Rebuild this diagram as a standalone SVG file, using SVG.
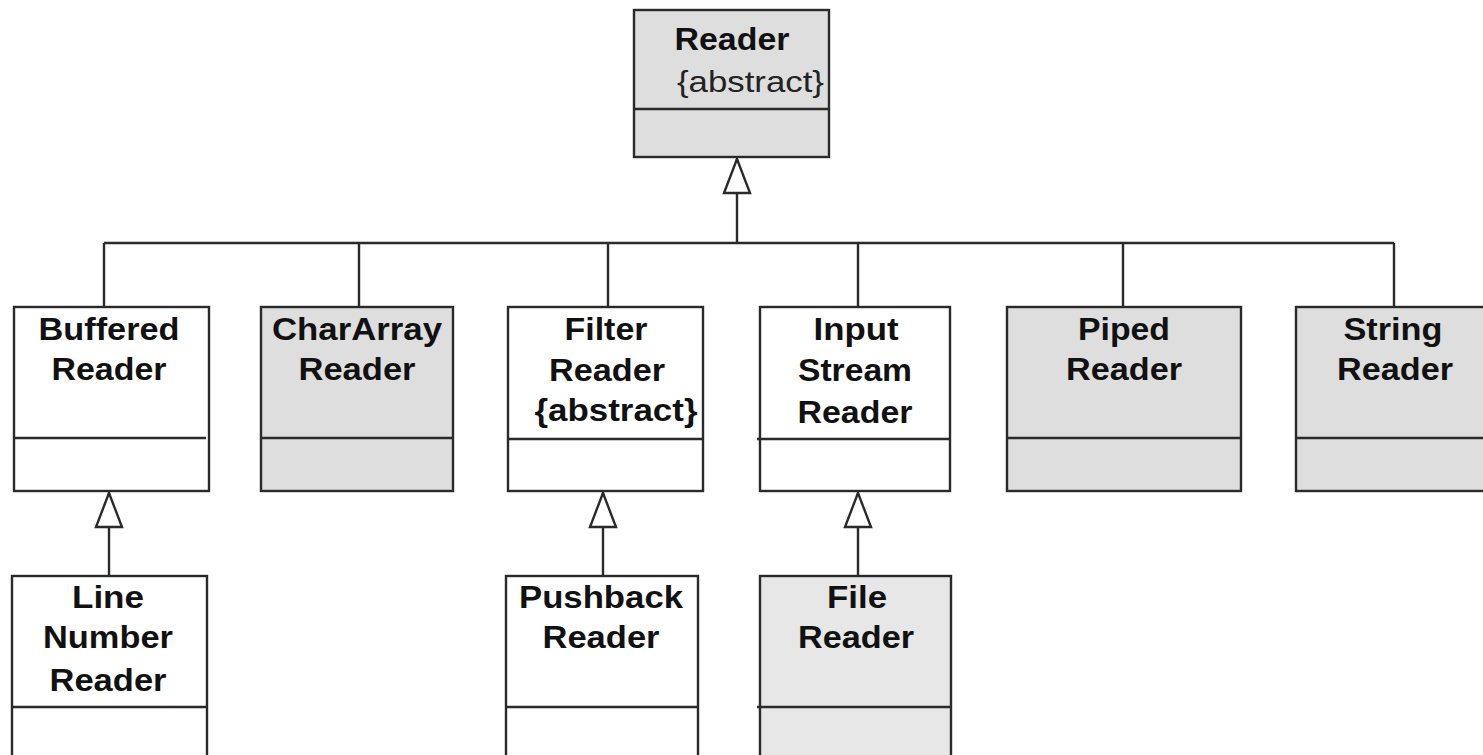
<svg xmlns="http://www.w3.org/2000/svg" width="1483" height="755" viewBox="0 0 1483 755">
<style>
.box{stroke:#2a2a2a;stroke-width:2.4;}
.w{fill:#ffffff;}
.g{fill:#dedede;}
.g2{fill:#e7e7e7;}
.div{stroke:#2a2a2a;stroke-width:2.4;fill:none;}
.t{font-family:"Liberation Sans",Arial,sans-serif;font-weight:bold;font-size:31px;fill:#111;text-anchor:middle;}
.r{font-family:"Liberation Sans",Arial,sans-serif;font-size:30px;fill:#222;}
.c{stroke:#2a2a2a;stroke-width:2.4;fill:none;}
</style>
<defs>
<marker id="gen" markerUnits="userSpaceOnUse" viewBox="-38 -16 40 32" refX="0" refY="0" markerWidth="40" markerHeight="32" orient="auto">
<path d="M0,0 L-34,-13 L-34,13 Z" fill="#ffffff" stroke="#2a2a2a" stroke-width="2.4" stroke-linejoin="miter"/>
</marker>
</defs>
<rect width="1483" height="755" fill="#ffffff"/>
<g id="connectors">
<path class="c" d="M104,243 L1394,243 M104,243 V307 M359,243 V307 M608,243 V307 M858,243 V307 M1123,243 V307 M1394,243 V307"/>
<path class="c" d="M737,243 V159" marker-end="url(#gen)"/>
<path class="c" d="M109,576 V493" marker-end="url(#gen)"/>
<path class="c" d="M603,576 V493" marker-end="url(#gen)"/>
<path class="c" d="M858,576 V493" marker-end="url(#gen)"/>
</g>
<g id="reader">
<rect class="box g" x="634" y="10" width="195" height="147"/>
<line class="div" x1="634" y1="109" x2="829" y2="109"/>
<text class="t" x="732" y="50" textLength="115" lengthAdjust="spacingAndGlyphs">Reader</text>
<text class="r" x="677" y="92" textLength="147" lengthAdjust="spacingAndGlyphs">{abstract}</text>
</g>
<g id="bufferedReader">
<rect class="box w" x="14" y="307" width="195" height="184"/>
<line class="div" x1="14" y1="438" x2="206" y2="438"/>
<text class="t" x="109" y="340" textLength="141" lengthAdjust="spacingAndGlyphs">Buffered</text>
<text class="t" x="109" y="380" textLength="115" lengthAdjust="spacingAndGlyphs">Reader</text>
</g>
<g id="charArrayReader">
<rect class="box g" x="261" y="307" width="192" height="184"/>
<line class="div" x1="261" y1="438" x2="453" y2="438"/>
<text class="t" x="357" y="340" textLength="170" lengthAdjust="spacingAndGlyphs">CharArray</text>
<text class="t" x="357" y="380" textLength="117" lengthAdjust="spacingAndGlyphs">Reader</text>
</g>
<g id="filterReader">
<rect class="box w" x="508" y="307" width="195" height="184"/>
<line class="div" x1="508" y1="439" x2="703" y2="439"/>
<text class="t" x="606" y="340" textLength="83" lengthAdjust="spacingAndGlyphs">Filter</text>
<text class="t" x="607" y="381" textLength="116" lengthAdjust="spacingAndGlyphs">Reader</text>
<text class="t" x="616" y="421" textLength="163" lengthAdjust="spacingAndGlyphs">{abstract}</text>
</g>
<g id="inputStreamReader">
<rect class="box w" x="760" y="307" width="190" height="184"/>
<line class="div" x1="757" y1="439" x2="950" y2="439"/>
<text class="t" x="856" y="340" textLength="85" lengthAdjust="spacingAndGlyphs">Input</text>
<text class="t" x="855" y="381" textLength="114" lengthAdjust="spacingAndGlyphs">Stream</text>
<text class="t" x="855" y="423" textLength="115" lengthAdjust="spacingAndGlyphs">Reader</text>
</g>
<g id="pipedReader">
<rect class="box g" x="1007" y="307" width="234" height="184"/>
<line class="div" x1="1007" y1="438" x2="1241" y2="438"/>
<text class="t" x="1124" y="340" textLength="92" lengthAdjust="spacingAndGlyphs">Piped</text>
<text class="t" x="1124" y="380" textLength="116" lengthAdjust="spacingAndGlyphs">Reader</text>
</g>
<g id="stringReader">
<rect class="box g" x="1296" y="307" width="200" height="184"/>
<line class="div" x1="1296" y1="438" x2="1496" y2="438"/>
<text class="t" x="1393" y="340" textLength="99" lengthAdjust="spacingAndGlyphs">String</text>
<text class="t" x="1395" y="380" textLength="116" lengthAdjust="spacingAndGlyphs">Reader</text>
</g>
<g id="lineNumberReader">
<rect class="box w" x="12" y="576" width="195" height="190"/>
<line class="div" x1="12" y1="707" x2="207" y2="707"/>
<text class="t" x="108" y="608" textLength="72" lengthAdjust="spacingAndGlyphs">Line</text>
<text class="t" x="108" y="648" textLength="130" lengthAdjust="spacingAndGlyphs">Number</text>
<text class="t" x="108" y="691" textLength="117" lengthAdjust="spacingAndGlyphs">Reader</text>
</g>
<g id="pushbackReader">
<rect class="box w" x="506" y="576" width="192" height="190"/>
<line class="div" x1="506" y1="707" x2="698" y2="707"/>
<text class="t" x="601" y="608" textLength="164" lengthAdjust="spacingAndGlyphs">Pushback</text>
<text class="t" x="601" y="648" textLength="117" lengthAdjust="spacingAndGlyphs">Reader</text>
</g>
<g id="fileReader">
<rect class="box g2" x="760" y="576" width="191" height="190"/>
<line class="div" x1="757" y1="707" x2="951" y2="707"/>
<text class="t" x="857" y="608" textLength="60" lengthAdjust="spacingAndGlyphs">File</text>
<text class="t" x="856" y="648" textLength="116" lengthAdjust="spacingAndGlyphs">Reader</text>
</g>
</svg>
